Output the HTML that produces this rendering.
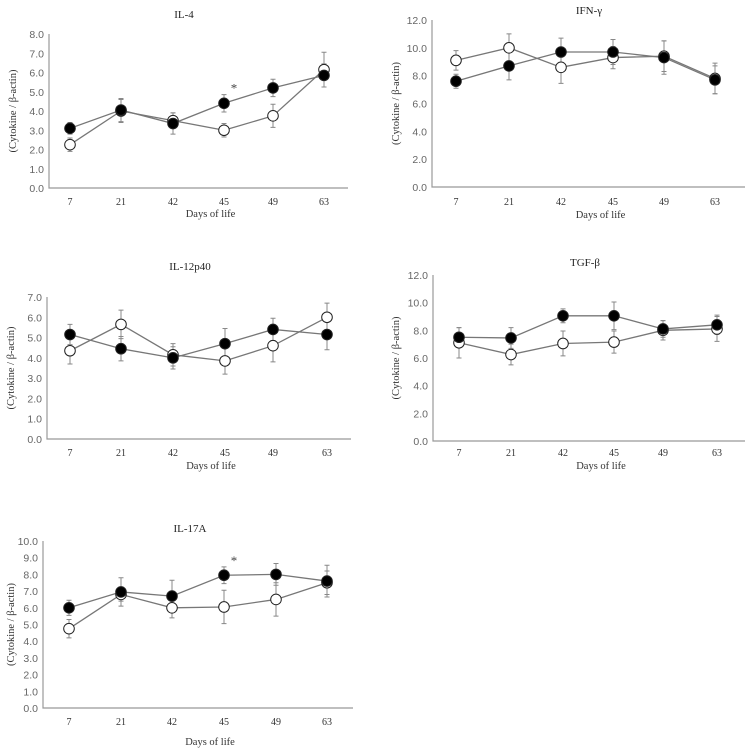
<!DOCTYPE html>
<html><head><meta charset="utf-8"><style>
body{margin:0;background:#fff;width:746px;height:750px;overflow:hidden}
svg{display:block}
</style></head><body>
<svg id="c" width="746" height="750"></svg>
<script>
const categories=["7","21","42","45","49","63"];
const il4Filled=[3.1,4.05,3.35,4.4,5.2,5.85];
const il4FilledErr=[0.3,0.6,0.55,0.45,0.45,0.6];
const il4Open=[2.25,4.0,3.5,3.0,3.75,6.15];
const il4OpenErr=[0.35,0.6,0.4,0.35,0.6,0.9];
const ifnFilled=[7.6,8.7,9.7,9.7,9.3,7.7];
const ifnFilledErr=[0.5,1.0,1.0,0.9,1.2,1.0];
const ifnOpen=[9.1,10.0,8.6,9.3,9.4,7.8];
const ifnOpenErr=[0.7,1.0,1.15,0.8,1.1,1.1];
const il12Filled=[5.15,4.45,4.0,4.7,5.4,5.15];
const il12FilledErr=[0.5,0.6,0.55,0.75,0.55,0.75];
const il12Open=[4.35,5.65,4.15,3.85,4.6,6.0];
const il12OpenErr=[0.65,0.7,0.55,0.65,0.8,0.7];
const tgfFilled=[7.5,7.45,9.05,9.05,8.1,8.4];
const tgfFilledErr=[0.7,0.75,0.5,1.0,0.6,0.7];
const tgfOpen=[7.1,6.25,7.05,7.15,8.0,8.1];
const tgfOpenErr=[1.1,0.75,0.9,0.8,0.7,0.9];
const il17Filled=[6.0,6.95,6.7,7.95,8.0,7.6];
const il17FilledErr=[0.45,0.85,0.95,0.5,0.65,0.95];
const il17Open=[4.75,6.8,6.0,6.05,6.5,7.5];
const il17OpenErr=[0.55,0.4,0.6,1.0,1.0,0.7];
const il4Ticks=[0,1,2,3,4,5,6,7,8];
const ifnTicks=[0,2,4,6,8,10,12];
const il12Ticks=[0,1,2,3,4,5,6,7];
const tgfTicks=[0,2,4,6,8,10,12];
const il17Ticks=[0,1,2,3,4,5,6,7,8,9,10];
const il4Star=[3];
const il17Star=[3];

const NS="http://www.w3.org/2000/svg";
const svg=document.getElementById('c');
function mk(tag,attrs,parent){const e=document.createElementNS(NS,tag);for(const k in attrs)e.setAttribute(k,attrs[k]);(parent||svg).appendChild(e);return e;}
function txt(s,attrs,parent){const e=mk('text',attrs,parent);e.textContent=s;return e;}

const panels=[
 {id:'il4',title:'IL-4',ax:49,y0:188,ymax:8,ytop:34,xend:348,xs:[70,121,173,224,273,324],tickY:201,lblY:217,tx:184,ty:18,ylx:12,f:il4Filled,fe:il4FilledErr,o:il4Open,oe:il4OpenErr,ticks:il4Ticks,star:il4Star},
 {id:'ifn',title:'IFN-γ',ax:432,y0:187,ymax:12,ytop:20,xend:745,xs:[456,509,561,613,664,715],tickY:201,lblY:218,tx:589,ty:14,ylx:395,f:ifnFilled,fe:ifnFilledErr,o:ifnOpen,oe:ifnOpenErr,ticks:ifnTicks,star:[]},
 {id:'il12',title:'IL-12p40',ax:47,y0:439,ymax:7,ytop:297,xend:351,xs:[70,121,173,225,273,327],tickY:452,lblY:469,tx:190,ty:270,ylx:10,f:il12Filled,fe:il12FilledErr,o:il12Open,oe:il12OpenErr,ticks:il12Ticks,star:[]},
 {id:'tgf',title:'TGF-β',ax:433,y0:441,ymax:12,ytop:275,xend:745,xs:[459,511,563,614,663,717],tickY:452,lblY:469,tx:585,ty:266,ylx:395,f:tgfFilled,fe:tgfFilledErr,o:tgfOpen,oe:tgfOpenErr,ticks:tgfTicks,star:[]},
 {id:'il17',title:'IL-17A',ax:43,y0:708,ymax:10,ytop:541,xend:353,xs:[69,121,172,224,276,327],tickY:721,lblY:745,tx:190,ty:532,ylx:10,f:il17Filled,fe:il17FilledErr,o:il17Open,oe:il17OpenErr,ticks:il17Ticks,star:il17Star}
];
panels.forEach(p=>{
 const g=mk('g',{});
 
 
 const y=v=>p.y0-(v/p.ymax)*(p.y0-p.ytop);
 const t=txt(p.title,{x:p.tx,y:p.ty,'text-anchor':'middle','font-family':'Liberation Serif, serif','font-size':11,fill:'#222'},g);
 
 const ax=mk('path',{d:`M${p.ax},${p.ytop}V${p.y0}H${p.xend}`,stroke:'#999',fill:'none','stroke-width':1.2},g);
 
 p.ticks.forEach(v=>{const e=txt(v.toFixed(1),{x:p.ax-5,y:y(v)+4,'text-anchor':'end','font-family':'Liberation Sans, sans-serif','font-size':10.5,fill:'#666'},g);
  });
 categories.forEach((c,i)=>{const e=txt(c,{x:p.xs[i],y:p.tickY+4,'text-anchor':'middle','font-family':'Liberation Serif, serif','font-size':10,fill:'#333'},g);
  });
 const xl=txt('Days of life',{x:(p.ax+p.xend)/2+12,y:p.lblY,'text-anchor':'middle','font-family':'Liberation Serif, serif','font-size':10.5,fill:'#333'},g);
 
 const ym=(p.y0+p.ytop)/2;
 const yl=txt('(Cytokine / β-actin)',{x:p.ylx+4,y:ym,transform:`rotate(-90 ${p.ylx+4} ${ym})`,'text-anchor':'middle','font-family':'Liberation Serif, serif','font-size':10.5,fill:'#333'},g);
 
 [[p.o,p.oe,'#fff','open'],[p.f,p.fe,'#000','filled']].forEach(([vals,errs,fill,nm])=>{
  const d=vals.map((v,i)=>(i?'L':'M')+p.xs[i]+','+y(v)).join('');
  const l=mk('path',{d,stroke:'#777',fill:'none','stroke-width':1.3},g);
  
  vals.forEach((v,i)=>{const x=p.xs[i],a=y(v+errs[i]),b=y(v-errs[i]);
   const eb=mk('path',{d:`M${x},${a}V${b}M${x-2.5},${a}H${x+2.5}M${x-2.5},${b}H${x+2.5}`,stroke:'#888','stroke-width':1},g);
   });
 });
 [[p.o,'#fff','open'],[p.f,'#000','filled']].forEach(([vals,fill,nm])=>{
  vals.forEach((v,i)=>{const c=mk('circle',{cx:p.xs[i],cy:y(v),r:5.3,fill,stroke:'#222','stroke-width':1},g);
   });
 });
 p.star.forEach(i=>{const top=y(Math.max(p.f[i]+p.fe[i],p.o[i]+p.oe[i]));
  const s=txt('*',{x:p.xs[i]+10,y:top-2,'text-anchor':'middle','font-family':'Liberation Serif, serif','font-size':13,fill:'#444'},g);
  });
});
</script>
</body></html>
